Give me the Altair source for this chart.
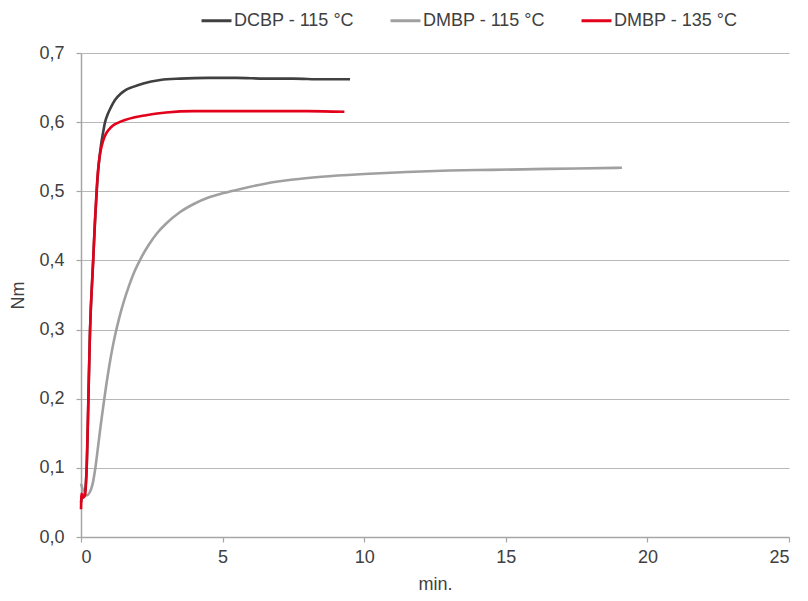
import altair as alt
import pandas as pd

series_names = ["DCBP - 115 °C", "DMBP - 115 °C", "DMBP - 135 °C"]
series_colors = ["#404040", "#a0a0a0", "#e3001b"]

dcbp115_x = [0, 0.05, 0.12, 0.2, 0.32, 0.43, 0.5, 0.57, 0.63, 0.7, 0.78, 0.85, 0.95, 1.05, 1.2, 1.4, 1.6, 1.84, 2.2, 2.8, 3.5, 4.5, 5.5, 6.5, 7.5, 8.5, 9.5]
dcbp115_y = [0.05, 0.06, 0.062, 0.10, 0.30, 0.40, 0.46, 0.51, 0.54, 0.565, 0.585, 0.60, 0.612, 0.621, 0.632, 0.641, 0.647, 0.651, 0.656, 0.661, 0.663, 0.664, 0.664, 0.663, 0.663, 0.662, 0.662]

dmbp115_x = [0, 0.05, 0.12, 0.2, 0.3, 0.4, 0.5, 0.6, 0.7, 0.8, 0.9, 1.0, 1.1, 1.2, 1.35, 1.5, 1.7, 1.9, 2.1, 2.4, 2.7, 3.0, 3.5, 4.0, 4.5, 5.0, 5.5, 6.5, 7.5, 8.5, 10.0, 11.5, 13.0, 14.5, 16.0, 17.5, 19.1]
dmbp115_y = [0.077, 0.07, 0.063, 0.06, 0.064, 0.075, 0.098, 0.13, 0.163, 0.193, 0.222, 0.248, 0.271, 0.291, 0.317, 0.339, 0.364, 0.385, 0.402, 0.423, 0.44, 0.453, 0.47, 0.482, 0.491, 0.497, 0.502, 0.511, 0.517, 0.521, 0.525, 0.528, 0.53, 0.531, 0.532, 0.533, 0.534]

dmbp135_x = [0, 0.02, 0.08, 0.14, 0.2, 0.26, 0.32, 0.43, 0.49, 0.55, 0.6, 0.65, 0.7, 0.78, 0.88, 1.0, 1.13, 1.3, 1.55, 1.9, 2.3, 3.0, 4.0, 5.0, 6.0, 7.0, 8.0, 9.3]
dmbp135_y = [0.04, 0.063, 0.057, 0.06, 0.10, 0.20, 0.30, 0.40, 0.455, 0.50, 0.53, 0.548, 0.56, 0.573, 0.583, 0.59, 0.595, 0.599, 0.603, 0.607, 0.61, 0.614, 0.616, 0.616, 0.616, 0.616, 0.616, 0.615]

x_ticks = [0, 5, 10, 15, 20, 25]
y_ticks = [0.0, 0.1, 0.2, 0.3, 0.4, 0.5, 0.6, 0.7]

rows = []
for name, xs, ys in [(series_names[0], dcbp115_x, dcbp115_y),
                     (series_names[1], dmbp115_x, dmbp115_y),
                     (series_names[2], dmbp135_x, dmbp135_y)]:
    for i, (xv, yv) in enumerate(zip(xs, ys)):
        rows.append({"series": name, "t": xv, "nm": yv, "order": i})
df = pd.DataFrame(rows)

FONT = "Liberation Sans"
TXT = "#404040"

chart = alt.Chart(df).mark_line(strokeWidth=2.6, interpolate="monotone").encode(
    x=alt.X("t:Q", title="min.",
            scale=alt.Scale(domain=[0, 25], nice=False, zero=True),
            axis=alt.Axis(values=x_ticks, grid=False, labelFontSize=18, titleFontSize=18,
                          labelPadding=6, titlePadding=9, tickSize=5, format="d")),
    y=alt.Y("nm:Q", title="Nm",
            scale=alt.Scale(domain=[0, 0.7], nice=False),
            axis=alt.Axis(values=y_ticks, grid=True, labelFontSize=18, titleFontSize=18,
                          labelExpr="replace(format(datum.value, '.1f'), '.', ',')",
                          labelPadding=12, titlePadding=11, tickSize=5)),
    color=alt.Color("series:N",
                    scale=alt.Scale(domain=series_names, range=series_colors),
                    legend=alt.Legend(title=None, orient="none", legendX=119, legendY=-49,
                                      direction="horizontal", columns=3, columnPadding=30,
                                      symbolType="stroke", symbolSize=900, symbolStrokeWidth=3,
                                      labelFontSize=18, labelOffset=1, labelColor=TXT, labelFont=FONT)),
    detail="series:N",
    order="order:Q",
).properties(
    width=708, height=484,
    autosize=alt.AutoSizeParams(type="none"),
    padding={"left": 73, "top": 45, "right": 11, "bottom": 56},
).configure_axis(
    domainColor="#a6a6a6", tickColor="#a6a6a6", gridColor="#b8b8b8",
    domainWidth=1.5, gridWidth=1.2, tickWidth=1.2,
    labelColor=TXT, titleColor=TXT, labelFont=FONT, titleFont=FONT, titleFontWeight="normal",
).configure_view(stroke=None)

chart.save("out.html", embed_options={"renderer": "svg", "actions": False})
